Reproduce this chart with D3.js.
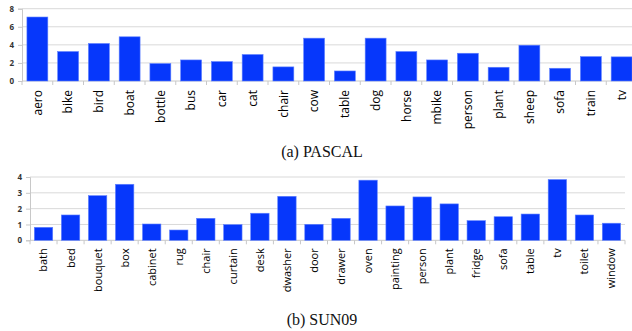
<!DOCTYPE html>
<html>
<head>
<meta charset="utf-8">
<script src="https://cdn.jsdelivr.net/npm/d3@7/dist/d3.min.js"></script>
<style>
  body { margin: 0; background: #fff; }
  svg { display: block; }
  .ytick text { font-family: "Open Sans", sans-serif; font-size: 8px; font-weight: 700; fill: #333; }
  .xlabel { font-family: "Open Sans", sans-serif; fill: #000; }
  .caption { font-family: "Liberation Serif", "Times New Roman", serif; font-size: 16px; fill: #111; }
</style>
</head>
<body>
<div id="chart"></div>
<script>
// PASCAL
var pascalCats = ["aero", "bike", "bird", "boat", "bottle", "bus", "car", "cat", "chair", "cow",
  "table", "dog", "horse", "mbike", "person", "plant", "sheep", "sofa", "train", "tv"];
var pascalValues = [7.08, 3.26, 4.15, 4.89, 1.93, 2.33, 2.15, 2.93, 1.56, 4.74,
  1.11, 4.74, 3.26, 2.33, 3.07, 1.52, 3.96, 1.41, 2.7, 2.67];
var pascalTicks = [0, 2, 4, 6, 8];

// SUN09
var sunCats = ["bath", "bed", "bouquet", "box", "cabinet", "rug", "chair", "curtain", "desk", "dwasher",
  "door", "drawer", "oven", "painting", "person", "plant", "fridge", "sofa", "table", "tv", "toilet", "window"];
var sunValues = [0.82, 1.6, 2.82, 3.54, 1.03, 0.65, 1.39, 0.99, 1.71, 2.78,
  1.01, 1.39, 3.8, 2.17, 2.74, 2.3, 1.24, 1.49, 1.66, 3.84, 1.6, 1.08];
var sunTicks = [0, 1, 2, 3, 4];

var BLUE = "#0637fb";
var GRID = "#d9d9d9";

var svg = d3.select("#chart").append("svg").attr("width", 632).attr("height", 331);

function drawChart(opts) {
  var x = d3.scaleBand().domain(opts.cats).range([opts.left, opts.right])
    .paddingInner(0.32).paddingOuter(0.16);
  var y = d3.scaleLinear().domain([0, opts.max]).range([opts.bottom, opts.top]);
  var g = svg.append("g");

  // gridlines
  g.selectAll(".grid").data(opts.ticks.slice(1)).enter().append("line")
    .attr("x1", opts.left).attr("x2", opts.gridRight)
    .attr("y1", (d) => y(d)).attr("y2", (d) => y(d))
    .style("stroke", GRID).style("stroke-width", 1);

  // y axis
  var yAxis = d3.axisLeft(y).tickValues(opts.ticks).tickFormat(d3.format("d")).tickSize(4).tickPadding(4);
  var ya = g.append("g").attr("class", "ytick").attr("transform", `translate(${opts.left},0)`).call(yAxis);
  ya.selectAll("line, path").style("stroke", "#c8c8c8");

  // x axis baseline + boundary ticks
  g.append("line").attr("x1", opts.left).attr("x2", opts.gridRight)
    .attr("y1", y(0)).attr("y2", y(0)).style("stroke", "#c8c8c8");
  var step = x.step();
  g.selectAll(".xt").data(d3.range(opts.cats.length + 1)).enter().append("line")
    .attr("x1", (i) => opts.left + i * step).attr("x2", (i) => opts.left + i * step)
    .attr("y1", y(0)).attr("y2", y(0) + 4).style("stroke", "#c8c8c8");

  // bars
  g.selectAll(".bar").data(opts.values).enter().append("rect")
    .attr("x", (d, i) => x(opts.cats[i]))
    .attr("y", (d) => y(d))
    .attr("width", x.bandwidth())
    .attr("height", (d) => y(0) - y(d))
    .style("fill", BLUE).style("stroke", "#5f80ff").style("stroke-width", 0.6);

  // category labels
  g.selectAll(".xlabel").data(opts.cats).enter().append("text")
    .attr("class", "xlabel")
    .attr("transform", (d) => `translate(${x(d) + x.bandwidth() / 2 + opts.fontSize * 0.36},${y(0) + opts.labelGap}) rotate(-90)`)
    .style("text-anchor", "end")
    .style("font-size", opts.fontSize + "px")
    .text((d) => d);

  svg.append("text").attr("class", "caption")
    .attr("x", 322).attr("y", opts.captionY).style("text-anchor", "middle")
    .text(opts.caption);
}

drawChart({
  cats: pascalCats, values: pascalValues, ticks: pascalTicks, max: 8,
  left: 22, right: 637, gridRight: 632, top: 8.7, bottom: 81,
  fontSize: 12, labelGap: 9, caption: "(a) PASCAL", captionY: 157
});

drawChart({
  cats: sunCats, values: sunValues, ticks: sunTicks, max: 4,
  left: 30, right: 625, gridRight: 625, top: 177, bottom: 240.3,
  fontSize: 11, labelGap: 8, caption: "(b) SUN09", captionY: 325
});
</script>
</body>
</html>
